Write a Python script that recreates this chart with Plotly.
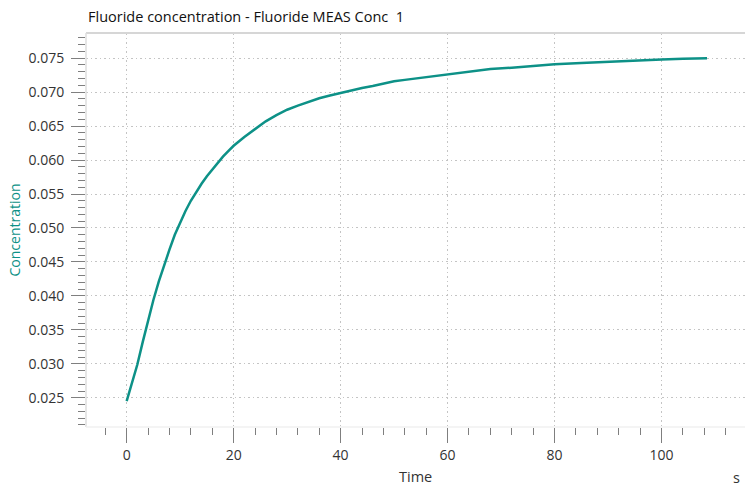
import plotly.graph_objects as go

# Measured fluoride concentration over time
time_s = [0, 1, 2, 3, 4, 5, 6, 7, 8, 9, 10, 11, 12, 13, 14, 15, 16, 17, 18, 19,
          20, 22, 24, 26, 28, 30, 32, 34, 36, 38, 40, 42, 44, 46, 48, 50, 52, 55,
          58, 60, 64, 68, 72, 76, 80, 85, 90, 95, 100, 104, 108.5]
concentration = [0.0245, 0.0272, 0.0299, 0.0332, 0.0364, 0.0394, 0.0421, 0.0446,
                 0.0468, 0.0490, 0.0508, 0.0525, 0.0540, 0.0553, 0.0565, 0.0576,
                 0.0586, 0.0596, 0.0605, 0.0613, 0.0621, 0.0634, 0.0646, 0.0657,
                 0.0666, 0.0674, 0.0680, 0.0686, 0.0691, 0.0695, 0.0699, 0.0703,
                 0.0706, 0.0709, 0.0713, 0.0716, 0.0718, 0.0721, 0.0725, 0.0727,
                 0.0730, 0.0734, 0.0736, 0.0739, 0.0741, 0.0743, 0.0745, 0.0747,
                 0.0748, 0.0749, 0.0750]

x_ticks = [0, 20, 40, 60, 80, 100]
y_ticks = [0.025, 0.030, 0.035, 0.040, 0.045, 0.050, 0.055, 0.060, 0.065, 0.070, 0.075]

TEAL = "#0d9187"
FONT = "Open Sans"
GRID_DASH = "1.5px,3px"

fig = go.Figure()
fig.add_trace(go.Scatter(
    x=time_s, y=concentration, mode="lines",
    line=dict(color=TEAL, width=2.5),
    hoverinfo="skip", showlegend=False,
))

fig.update_layout(
    width=745, height=486,
    margin=dict(l=86, r=0, t=33, b=59),
    paper_bgcolor="white", plot_bgcolor="white",
    font=dict(family=FONT, size=14, color="#222222"),
    showlegend=False,
    xaxis=dict(
        range=[-7.6, 115.6],
        tickvals=x_ticks, ticktext=[str(v) for v in x_ticks],
        ticks="outside", ticklen=15, tickwidth=1.2, tickcolor="#7f7f7f",
        minor=dict(dtick=4, tick0=0, ticks="outside", ticklen=7,
                   tickwidth=1.2, tickcolor="#7f7f7f", showgrid=False),
        showgrid=True, gridcolor="#c4c4c4", gridwidth=1, griddash=GRID_DASH,
        zeroline=False, showline=False,
        tickfont=dict(family=FONT, size=14, color="#333333"),
    ),
    yaxis=dict(
        range=[0.0207, 0.0787],
        tickvals=y_ticks, ticktext=[f"{v:.3f}" for v in y_ticks],
        ticks="outside", ticklen=14, tickwidth=1.2, tickcolor="#7f7f7f",
        minor=dict(dtick=0.001, tick0=0.0, ticks="outside", ticklen=7,
                   tickwidth=1.2, tickcolor="#7f7f7f", showgrid=False),
        showgrid=True, gridcolor="#c4c4c4", gridwidth=1, griddash=GRID_DASH,
        zeroline=False, showline=False,
        ticklabelstandoff=4,
        tickfont=dict(family=FONT, size=14, color="#333333"),
    ),
    shapes=[
        dict(type="line", xref="paper", yref="paper", x0=0, x1=1, y0=1, y1=1,
             line=dict(color="#d6d6d6", width=2)),
        dict(type="line", xref="paper", yref="paper", x0=0, x1=0, y0=0, y1=1,
             line=dict(color="#dedede", width=1.5)),
        dict(type="line", xref="paper", yref="paper", x0=0, x1=1, y0=0, y1=0,
             line=dict(color="#f0f0f0", width=1.5)),
    ],
    annotations=[
        dict(text="Fluoride concentration - Fluoride MEAS Conc  1",
             xref="paper", yref="paper", x=0, y=1, xanchor="left", yanchor="bottom",
             yshift=5, showarrow=False,
             font=dict(family=FONT, size=14.5, color="#111111")),
        dict(text="Concentration", xref="paper", yref="paper", x=-0.11, y=0.5,
             textangle=-90, showarrow=False, xanchor="center", yanchor="middle",
             font=dict(family=FONT, size=14, color=TEAL)),
        dict(text="Time", xref="paper", yref="paper", x=0.5, y=0,
             xanchor="center", yanchor="middle", yshift=-49, showarrow=False,
             font=dict(family=FONT, size=14.5, color="#333333")),
        dict(text="s", xref="paper", yref="paper", x=1, y=0,
             xanchor="right", yanchor="middle", xshift=-3, yshift=-50, showarrow=False,
             font=dict(family=FONT, size=14.5, color="#333333")),
    ],
)

fig.write_html("out.html")
